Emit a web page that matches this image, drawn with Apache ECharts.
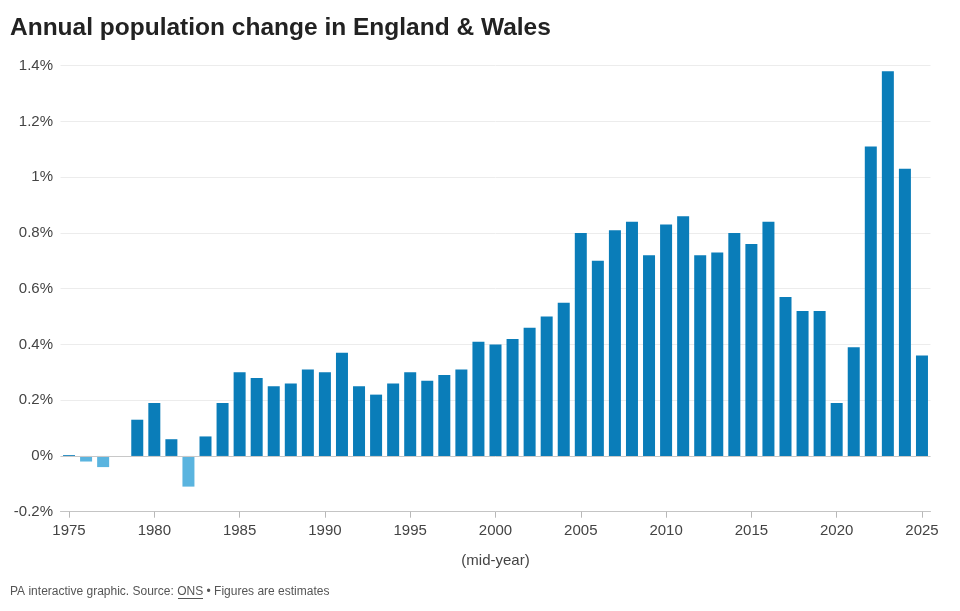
<!DOCTYPE html>
<html>
<head>
<meta charset="utf-8">
<script src="https://cdn.jsdelivr.net/npm/echarts@6/dist/echarts.min.js"></script>
<style>
  html, body { margin: 0; padding: 0; background: #fff; }
  #chart { width: 960px; height: 611px; }
</style>
</head>
<body>
<div id="chart"></div>
<script>
var years = [];
for (var y = 1975; y <= 2025; y++) years.push(String(y));

// annual % change
var change = [
  0.003, -0.02, -0.04, 0, 0.13, 0.19, 0.06, -0.11, 0.07, 0.19,
  0.30, 0.28, 0.25, 0.26, 0.31, 0.30, 0.37, 0.25, 0.22, 0.26,
  0.30, 0.27, 0.29, 0.31, 0.41, 0.40, 0.42, 0.46, 0.50, 0.55,
  0.80, 0.70, 0.81, 0.84, 0.72, 0.83, 0.86, 0.72, 0.73, 0.80,
  0.76, 0.84, 0.57, 0.52, 0.52, 0.19, 0.39, 1.11, 1.38, 1.03,
  0.36
];

var yTicks = { min: -0.2, max: 1.4, step: 0.2 };

var chartDom = document.getElementById('chart');
var myChart = echarts.init(chartDom);
var option;

function everyFifth(i, v) { return +v % 5 === 0; }

option = {
  animation: false,
  textStyle: { fontFamily: 'Liberation Sans, Arial, sans-serif' },
  title: {
    text: 'Annual population change in England & Wales',
    left: 10,
    top: 16,
    padding: 0,
    textStyle: { fontSize: 24.5, fontWeight: 'bold', color: '#222' }
  },
  grid: { left: 60.5, right: 29.5, top: 65.7, bottom: 99.3 },
  xAxis: {
    type: 'category',
    data: years,
    name: '(mid-year)',
    nameLocation: 'middle',
    nameGap: 42,
    nameTextStyle: { fontSize: 15, color: '#444' },
    axisLine: { onZero: false, lineStyle: { color: '#c4c4c4' } },
    axisTick: {
      show: true,
      alignWithLabel: true,
      length: 6,
      lineStyle: { color: '#b8b8b8', width: 1 },
      interval: everyFifth
    },
    axisLabel: {
      fontSize: 15,
      color: '#444',
      margin: 12,
      interval: everyFifth
    }
  },
  yAxis: {
    type: 'value',
    min: yTicks.min,
    max: yTicks.max,
    interval: yTicks.step,
    axisLine: { show: false },
    axisTick: { show: false },
    axisLabel: {
      fontSize: 15,
      color: '#444',
      margin: 7.5,
      formatter: function (v) { return Number(v.toFixed(1)) + '%'; }
    },
    splitLine: { lineStyle: { color: '#ececec' } }
  },
  series: [
    {
      type: 'bar',
      data: change,
      barWidth: 12,
      itemStyle: {
        color: function (p) { return p.value < 0 ? '#5ab4df' : '#0a7db9'; }
      },
      markLine: {
        silent: true,
        symbol: 'none',
        label: { show: false },
        lineStyle: { color: '#c8c8c8', type: 'solid', width: 1 },
        data: [{ yAxis: 0 }]
      }
    }
  ],
  graphic: [
    {
      type: 'text',
      left: 10,
      top: 586,
      style: {
        text: 'PA interactive graphic. Source: ONS • Figures are estimates',
        fontSize: 12,
        fill: '#555',
        fontFamily: 'Liberation Sans, Arial, sans-serif'
      }
    },
    {
      type: 'line',
      shape: { x1: 178, y1: 598.5, x2: 203, y2: 598.5 },
      style: { stroke: '#555', lineWidth: 1 }
    }
  ]
};

option && myChart.setOption(option);
</script>
</body>
</html>
